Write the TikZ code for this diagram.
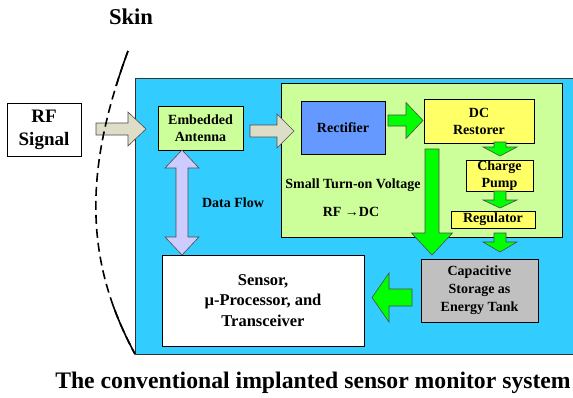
\documentclass[tikz,border=0pt]{standalone}
\usepackage{fontspec}
\setmainfont{Liberation Serif}
\usetikzlibrary{calc}
\definecolor{bgblue}{HTML}{33CCFF}
\definecolor{lgreen}{HTML}{CCFF99}
\definecolor{rblue}{HTML}{6699FF}
\definecolor{lyellow}{HTML}{FFFF66}
\definecolor{agreen}{HTML}{00FF00}
\definecolor{beige}{HTML}{DDDDC8}
\definecolor{lav}{HTML}{CCCCFF}
\definecolor{lgrey}{HTML}{C0C0C0}
% block arrow: style, from, to, shaft half width, head half width, head length
\newcommand\blockarrow[6]{%
  \coordinate (bam) at ($(#3)!#6!(#2)$);
  \filldraw[#1] ($(#2)!#4!90:(#3)$) -- ($(bam)!#4!-90:(#2)$) -- ($(bam)!#5!-90:(#2)$) -- (#3)
    -- ($(bam)!#5!90:(#2)$) -- ($(bam)!#4!90:(#2)$) -- ($(#2)!#4!-90:(#3)$) -- cycle;}
% double block arrow
\newcommand\dblarrow[6]{%
  \coordinate (dam) at ($(#2)!#6!(#3)$);
  \coordinate (dan) at ($(#3)!#6!(#2)$);
  \filldraw[#1] (#2) -- ($(dam)!#5!90:(#3)$) -- ($(dam)!#4!90:(#3)$) -- ($(dan)!#4!-90:(#2)$)
    -- ($(dan)!#5!-90:(#2)$) -- (#3) -- ($(dan)!#5!90:(#2)$) -- ($(dan)!#4!90:(#2)$)
    -- ($(dam)!#4!-90:(#3)$) -- ($(dam)!#5!-90:(#3)$) -- cycle;}
\begin{document}
\begin{tikzpicture}[x=1pt,y=-1pt,
  box/.style={draw=black, line width=0.8pt, inner sep=0pt, align=center,
    font=\fontsize{14}{17}\selectfont\bfseries},
  lbl/.style={inner sep=0pt, align=center, font=\fontsize{14}{17}\selectfont\bfseries},
  garrow/.style={fill=agreen, draw=black!70, line width=0.6pt},
  barrow/.style={fill=beige, draw=black!70, line width=0.6pt},
  larrow/.style={fill=lav, draw=black!70, line width=0.6pt},
  skin/.style={line width=1.6pt, black}]
\useasboundingbox (0,0) rectangle (573,397);
\fill[white] (0,0) rectangle (573,397);

% implant background
\filldraw[fill=bgblue, draw=black!80, line width=0.8pt] (135,78) rectangle (575,354);
% power conversion block
\node[box, fill=lgreen, minimum width=280.5pt, minimum height=154pt] (conv) at (421.75,160) {};

% nodes
\node[box, fill=white, minimum width=74pt, minimum height=53pt,
  font=\fontsize{19}{23}\selectfont\bfseries] (rf) at (44,129.5) {RF\\Signal};
\node[box, fill=lgreen, minimum width=85pt, minimum height=44pt] (ant) at (200.5,128) {Embedded\\Antenna};
\node[box, fill=rblue, minimum width=84pt, minimum height=53pt] (rect) at (343,127.5) {Rectifier};
\node[box, fill=lyellow, minimum width=110pt, minimum height=44pt] (dcr) at (479,121) {DC\\Restorer};
\node[box, fill=lyellow, minimum width=67pt, minimum height=31pt] (cp) at (499.5,175.5) {Charge\\Pump};
\node[box, fill=lyellow, minimum width=84pt, minimum height=17pt] (reg) at (493,219.5) {Regulator};
\node[box, fill=lgrey, minimum width=117pt, minimum height=63pt,
  font=\fontsize{14}{18}\selectfont\bfseries] (cap) at (479.5,290.5) {Capacitive\\Storage as\\Energy Tank};
\node[box, fill=white, minimum width=202pt, minimum height=91pt,
  font=\fontsize{16.5}{20.5}\selectfont\bfseries] (sens) at (263,300.5) {Sensor,\\µ-Processor, and\\Transceiver};

\node[lbl] (stv) at (353,185) {Small Turn-on Voltage};
\node[lbl] (rfdc) at (351,212) {RF →DC};
\node[lbl] (df) at (233,203) {Data Flow};

% arrow end points
\coordinate (a1s) at (96,129);   \coordinate (a1e) at (146,129);
\coordinate (a2s) at (250,131);  \coordinate (a2e) at (294,131);
\coordinate (a3s) at (388,120.5);\coordinate (a3e) at (423,120.5);
\coordinate (a4s) at (500,142);  \coordinate (a4e) at (500,156);
\coordinate (a5s) at (500,191);  \coordinate (a5e) at (500,208);
\coordinate (a6s) at (500,233);  \coordinate (a6e) at (500,252);
\coordinate (a7s) at (432,149);  \coordinate (a7e) at (432,255);
\coordinate (a8s) at (412,297.5);\coordinate (a8e) at (372,297.5);
\coordinate (a9s) at (182,150);  \coordinate (a9e) at (182,255);

\blockarrow{barrow}{a1s}{a1e}{6pt}{17pt}{18pt}
\blockarrow{barrow}{a2s}{a2e}{6pt}{17pt}{17pt}
\blockarrow{garrow}{a3s}{a3e}{5.5pt}{18pt}{17pt}
\blockarrow{garrow}{a4s}{a4e}{6pt}{17pt}{9pt}
\blockarrow{garrow}{a5s}{a5e}{6pt}{17pt}{8pt}
\blockarrow{garrow}{a6s}{a6e}{6pt}{17pt}{10pt}
\blockarrow{garrow}{a7s}{a7e}{7pt}{20.5pt}{22pt}
\blockarrow{garrow}{a8s}{a8e}{8.5pt}{24.5pt}{17pt}
\dblarrow{larrow}{a9s}{a9e}{6pt}{17pt}{18pt}

% skin line
\def\skinpath{(128,51) .. controls (84,170) and (84,260) .. (135,354)}
\draw[skin, dash pattern=on 9pt off 5pt] \skinpath;
\begin{scope}
  \clip (60,40) rectangle (160,85);
  \draw[skin] \skinpath;
\end{scope}
\begin{scope}
  \clip (60,306) rectangle (160,360);
  \draw[skin] \skinpath;
\end{scope}

\node[inner sep=0pt, font=\fontsize{22.6}{26}\selectfont\bfseries] (skinlbl) at (131,17) {Skin};
\node[inner sep=0pt, anchor=base, font=\fontsize{23.7}{28}\selectfont\bfseries] (cap2) at (313,388) {The conventional implanted sensor monitor system};
\end{tikzpicture}
\end{document}
